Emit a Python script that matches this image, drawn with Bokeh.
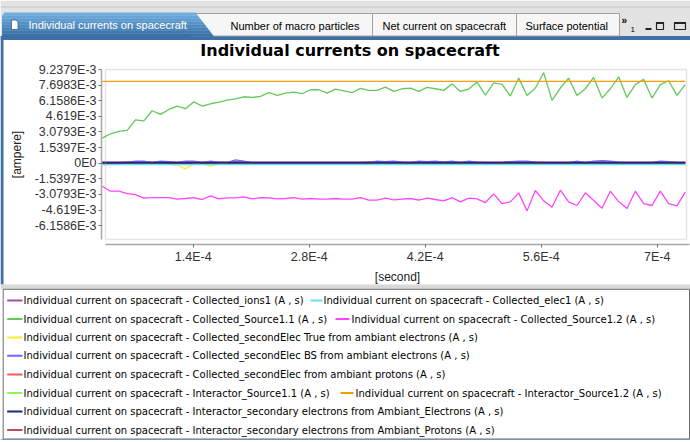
from bokeh.plotting import figure
from bokeh.models import Range1d, FixedTicker, BoxAnnotation, ColumnDataSource
from bokeh.core.properties import value
from bokeh.embed import file_html
from bokeh.resources import INLINE

# ---------------- data ----------------
TAB_TITLES = ["Individual currents on spacecraft", "Number of macro particles",
              "Net current on spacecraft", "Surface potential"]
CHART_TITLE = "Individual currents on spacecraft"
X_LABEL = "[second]"
Y_LABEL = "[ampere]"

N_SAMPLES = 71
T_FIRST = 3.017e-5
T_STEP = 1.00534e-5
TIME = [T_FIRST + k * T_STEP for k in range(N_SAMPLES)]

X_TICKS = [1.4e-4, 2.8e-4, 4.2e-4, 5.6e-4, 7.0e-4]
X_TICK_LABELS = ["1.4E-4", "2.8E-4", "4.2E-4", "5.6E-4", "7E-4"]
Y_TICKS = [-6.1586e-3, -4.619e-3, -3.0793e-3, -1.5397e-3, 0.0, 1.5397e-3,
           3.0793e-3, 4.619e-3, 6.1586e-3, 7.6983e-3, 9.2379e-3]
Y_TICK_LABELS = ["-6.1586E-3", "-4.619E-3", "-3.0793E-3", "-1.5397E-3", "0E0", "1.5397E-3",
                 "3.0793E-3", "4.619E-3", "6.1586E-3", "7.6983E-3", "9.2379E-3"]

SERIES_NAMES = [
    "Individual current on spacecraft - Collected_ions1 (A , s)",
    "Individual current on spacecraft - Collected_elec1 (A , s)",
    "Individual current on spacecraft - Collected_Source1.1 (A , s)",
    "Individual current on spacecraft - Collected_Source1.2 (A , s)",
    "Individual current on spacecraft - Collected_secondElec True from ambiant electrons (A , s)",
    "Individual current on spacecraft - Collected_secondElec BS from ambiant electrons (A , s)",
    "Individual current on spacecraft - Collected_secondElec from ambiant protons (A , s)",
    "Individual current on spacecraft - Interactor_Source1.1 (A , s)",
    "Individual current on spacecraft - Interactor_Source1.2 (A , s)",
    "Individual current on spacecraft - Interactor_secondary electrons from Ambiant_Electrons (A , s)",
    "Individual current on spacecraft - Interactor_secondary electrons from Ambiant_Protons (A , s)",
]
SERIES_COLORS = ["#a34fa3", "#66e0f0", "#63c957", "#ff44ff", "#f2ee3a", "#6a6aff",
                 "#ff5a5a", "#88ff55", "#f0a000", "#25257f", "#b05060"]

# values in milliampere
IONS1_MA = [0.10, 0.11, 0.10, 0.12, 0.14, 0.12, 0.10, 0.13, 0.12, 0.10,
            0.12, 0.13, 0.10, 0.12, 0.11, 0.10, 0.16, 0.12, 0.10, 0.11,
            0.10, 0.11, 0.10, 0.10, 0.11, 0.10, 0.10, 0.11, 0.10, 0.10,
            0.11, 0.10, 0.12, 0.13, 0.12, 0.13, 0.11, 0.10, 0.12, 0.11,
            0.13, 0.11, 0.12, 0.10, 0.12, 0.11, 0.10, 0.10, 0.11, 0.12,
            0.13, 0.12, 0.11, 0.10, 0.10, 0.10, 0.11, 0.12, 0.10, 0.13,
            0.14, 0.12, 0.11, 0.10, 0.10, 0.10, 0.11, 0.13, 0.12, 0.10,
            0.10]
ELEC1_MA = [-0.15, -0.14, -0.13, -0.14, -0.15, -0.13, -0.14, -0.15, -0.14, -0.13,
            -0.14, -0.15, -0.14, -0.13, -0.14, -0.14, -0.15, -0.14, -0.13, -0.14,
            -0.14, -0.15, -0.14, -0.14, -0.13, -0.14, -0.14, -0.15, -0.14, -0.14,
            -0.13, -0.14, -0.14, -0.15, -0.14, -0.13, -0.14, -0.15, -0.14, -0.14,
            -0.13, -0.14, -0.15, -0.14, -0.13, -0.14, -0.14, -0.15, -0.14, -0.13,
            -0.14, -0.15, -0.14, -0.13, -0.14, -0.14, -0.15, -0.14, -0.13, -0.14,
            -0.15, -0.14, -0.13, -0.14, -0.15, -0.14, -0.14, -0.13, -0.14, -0.15,
            -0.14]
SOURCE11_MA = [2.47, 2.90, 3.13, 3.23, 4.28, 4.18, 5.17, 4.81, 5.30, 5.63,
               5.37, 6.06, 5.63, 5.86, 6.02, 6.22, 6.35, 6.55, 6.48, 6.58,
               6.95, 6.68, 6.91, 7.01, 6.85, 7.24, 7.24, 6.91, 7.31, 7.14,
               6.95, 7.37, 7.18, 7.18, 7.50, 7.08, 7.34, 7.41, 7.08, 7.47,
               7.34, 7.18, 7.80, 7.08, 7.31, 8.00, 6.71, 7.93, 7.77, 6.62,
               8.39, 6.68, 7.41, 8.92, 6.19, 7.41, 8.39, 6.68, 7.34, 8.46,
               6.42, 7.34, 8.52, 6.48, 7.74, 8.26, 6.42, 7.74, 8.13, 6.68,
               7.74]
SOURCE12_MA = [-2.27, -2.76, -2.76, -2.99, -3.09, -3.45, -3.39, -3.39, -3.39, -3.55,
               -3.48, -3.39, -3.58, -3.22, -3.52, -3.42, -3.42, -3.32, -3.52, -3.39,
               -3.42, -3.52, -3.48, -3.39, -3.55, -3.48, -3.55, -3.55, -3.48, -3.55,
               -3.55, -3.39, -3.65, -3.65, -3.45, -3.62, -3.55, -3.48, -3.65, -3.45,
               -3.58, -3.71, -3.39, -3.81, -3.45, -3.52, -3.88, -3.02, -3.98, -3.81,
               -2.92, -4.70, -2.69, -3.71, -4.34, -2.66, -3.81, -4.17, -2.92, -3.68,
               -4.44, -2.76, -3.78, -4.47, -2.76, -3.98, -4.17, -2.76, -3.98, -4.21,
               -2.86]
SEC_TRUE_MA = [-0.15, -0.15, -0.12, -0.08, -0.08, -0.08, -0.08, -0.08, -0.12, -0.20,
               -0.56, -0.02, -0.10, -0.30, -0.08, -0.08, -0.09, -0.08, -0.08, -0.08,
               -0.08, -0.09, -0.08, -0.08, -0.08, -0.08, -0.09, -0.08, -0.08, -0.08,
               -0.08, -0.08, -0.09, -0.08, -0.08, -0.08, -0.08, -0.09, -0.08, -0.08,
               -0.08, -0.08, -0.09, -0.08, -0.08, -0.08, -0.08, -0.09, -0.08, -0.08,
               -0.08, -0.08, -0.09, -0.08, -0.08, -0.08, -0.08, -0.09, -0.08, -0.08,
               -0.08, -0.08, -0.09, -0.08, -0.08, -0.08, -0.08, -0.09, -0.08, -0.08,
               -0.08]
SEC_BS_MA = [0.05, 0.05, 0.05, 0.05, 0.20, 0.20, 0.05, 0.20, 0.15, 0.05,
             0.20, 0.20, 0.05, 0.20, 0.10, 0.05, 0.33, 0.20, 0.05, 0.05,
             0.05, 0.05, 0.05, 0.05, 0.05, 0.05, 0.05, 0.05, 0.05, 0.05,
             0.05, 0.05, 0.05, 0.20, 0.15, 0.20, 0.10, 0.05, 0.20, 0.15,
             0.20, 0.10, 0.20, 0.05, 0.20, 0.10, 0.05, 0.05, 0.05, 0.15,
             0.20, 0.20, 0.10, 0.05, 0.05, 0.05, 0.05, 0.20, 0.05, 0.20,
             0.25, 0.20, 0.10, 0.05, 0.05, 0.05, 0.05, 0.20, 0.15, 0.05,
             0.05]
SEC_PROTONS_MA = [0.02, 0.02, 0.03, 0.02, 0.02, 0.02, 0.03, 0.02, 0.02, 0.02,
                  0.02, 0.02, 0.03, 0.02, 0.02, 0.02, 0.02, 0.03, 0.02, 0.02,
                  0.02, 0.02, 0.02, 0.03, 0.02, 0.02, 0.02, 0.02, 0.02, 0.03,
                  0.02, 0.02, 0.02, 0.02, 0.03, 0.02, 0.02, 0.02, 0.02, 0.02,
                  0.03, 0.02, 0.02, 0.02, 0.02, 0.02, 0.03, 0.02, 0.02, 0.02,
                  0.02, 0.02, 0.03, 0.02, 0.02, 0.02, 0.02, 0.02, 0.03, 0.02,
                  0.02, 0.02, 0.02, 0.02, 0.03, 0.02, 0.02, 0.02, 0.02, 0.02,
                  0.02]
INTER_SRC11_MA = [0.01, 0.00, 0.01, 0.00, 0.00, 0.01, 0.00, 0.00, 0.01, 0.00,
                  0.00, 0.00, 0.01, 0.00, 0.00, 0.00, 0.01, 0.00, 0.00, 0.00,
                  0.01, 0.00, 0.00, 0.00, 0.00, 0.01, 0.00, 0.00, 0.00, 0.00,
                  0.01, 0.00, 0.00, 0.00, 0.00, 0.01, 0.00, 0.00, 0.00, 0.00,
                  0.01, 0.00, 0.00, 0.00, 0.00, 0.01, 0.00, 0.00, 0.00, 0.00,
                  0.01, 0.00, 0.00, 0.00, 0.00, 0.01, 0.00, 0.00, 0.00, 0.00,
                  0.01, 0.00, 0.00, 0.00, 0.00, 0.01, 0.00, 0.00, 0.00, 0.00,
                  0.01]
INTER_SRC12_MA = [8.06, 8.06, 8.06, 8.06, 8.06, 8.06, 8.06, 8.06, 8.06, 8.06,
                  8.06, 8.06, 8.06, 8.06, 8.06, 8.06, 8.06, 8.06, 8.06, 8.06,
                  8.06, 8.06, 8.06, 8.06, 8.06, 8.06, 8.06, 8.06, 8.06, 8.06,
                  8.06, 8.06, 8.06, 8.06, 8.06, 8.06, 8.06, 8.06, 8.06, 8.06,
                  8.06, 8.06, 8.06, 8.06, 8.06, 8.06, 8.06, 8.06, 8.06, 8.06,
                  8.06, 8.06, 8.06, 8.06, 8.06, 8.06, 8.06, 8.06, 8.06, 8.06,
                  8.06, 8.06, 8.06, 8.06, 8.06, 8.06, 8.06, 8.06, 8.06, 8.06,
                  8.06]
INTER_SEC_ELEC_MA = [0.04, 0.04, 0.04, 0.04, 0.04, 0.04, 0.04, 0.04, 0.04, 0.04,
                     0.04, 0.04, 0.04, 0.04, 0.04, 0.04, 0.04, 0.04, 0.04, 0.04,
                     0.04, 0.04, 0.04, 0.04, 0.04, 0.04, 0.04, 0.04, 0.04, 0.04,
                     0.04, 0.04, 0.04, 0.04, 0.04, 0.04, 0.04, 0.04, 0.04, 0.04,
                     0.04, 0.04, 0.04, 0.04, 0.04, 0.04, 0.04, 0.04, 0.04, 0.04,
                     0.04, 0.04, 0.04, 0.04, 0.04, 0.04, 0.04, 0.04, 0.04, 0.04,
                     0.04, 0.04, 0.04, 0.04, 0.04, 0.04, 0.04, 0.04, 0.04, 0.04,
                     0.04]
INTER_SEC_PROT_MA = [0.03, 0.03, 0.03, 0.03, 0.03, 0.03, 0.03, 0.03, 0.03, 0.03,
                     0.03, 0.03, 0.03, 0.03, 0.03, 0.03, 0.03, 0.03, 0.03, 0.03,
                     0.03, 0.03, 0.03, 0.03, 0.03, 0.03, 0.03, 0.03, 0.03, 0.03,
                     0.03, 0.03, 0.03, 0.03, 0.03, 0.03, 0.03, 0.03, 0.03, 0.03,
                     0.03, 0.03, 0.03, 0.03, 0.03, 0.03, 0.03, 0.03, 0.03, 0.03,
                     0.03, 0.03, 0.03, 0.03, 0.03, 0.03, 0.03, 0.03, 0.03, 0.03,
                     0.03, 0.03, 0.03, 0.03, 0.03, 0.03, 0.03, 0.03, 0.03, 0.03,
                     0.03]

SERIES_MA = [IONS1_MA, ELEC1_MA, SOURCE11_MA, SOURCE12_MA, SEC_TRUE_MA, SEC_BS_MA,
             SEC_PROTONS_MA, INTER_SRC11_MA, INTER_SRC12_MA, INTER_SEC_ELEC_MA, INTER_SEC_PROT_MA]

# legend flow layout: rows of series indices
LEGEND_ROWS = [[0, 1], [2, 3], [4], [5], [6], [7, 8], [9], [10]]

# ---------------- layout helpers (page pixel geometry -> data space) ----------------
W, H = 690, 440
X_PX_PER_S = 116.0 / 1.4e-4
Y_PX_PER_A = 93.7 / 9.2379e-3


def X(px):
    return 1.4e-4 + (px - 192.7) / X_PX_PER_S


def Y(py):
    return (162.7 - py) / Y_PX_PER_A


AXIS_FONT = "Liberation Sans"

p = figure(width=W, height=H, output_backend="svg", toolbar_location=None,
           x_range=Range1d(X(0), X(W)), y_range=Range1d(Y(H), Y(0)),
           min_border=0, background_fill_color="white", border_fill_color="white",
           outline_line_color=None)
p.grid.visible = False


def rect(l, r, t, b, fill, line=None, lw=1.0):
    p.quad(left=[X(l)], right=[X(r)], top=[Y(t)], bottom=[Y(b)],
           fill_color=fill, line_color=line, line_width=lw)


def poly(xs, ys, fill, line=None, lw=1.0):
    p.patch(x=[X(v) for v in xs], y=[Y(v) for v in ys], fill_color=fill, line_color=line, line_width=lw)


def hseg(x0, x1, y, color, lw=1.0):
    p.segment(x0=[X(x0)], y0=[Y(y)], x1=[X(x1)], y1=[Y(y)], line_color=color, line_width=lw)


def txt(x, y, s, size, color="black", font="Liberation Sans", style="normal", align="left"):
    p.text(x=[X(x)], y=[Y(y)], text=[s], text_font=value(font), text_font_size=size,
           text_font_style=style, text_color=color, text_align=align, text_baseline="middle")


# ---------------- window chrome & tab strip ----------------
rect(0, W, 0, 36, "#e2e2e2")
hseg(0, W, 6.5, "#c6c6c6")
rect(0, W, 35.5, 39.5, "#3d71a6")
rect(0, 3, 35.5, 284, "#3d71a6")
for l, r in ((190, 372), (372, 516), (516, 619)):
    rect(l, r, 13, 35.5, "#f6f6f6", "#a0a0a0", 1)


def slant(y):
    return 195 + (y - 12) * 18.5 / 24


c_top = (0x70, 0xae, 0xdf)
c_bot = (0x39, 0x71, 0xa8)
nb = 8
for i in range(nb):
    y0 = 12 + i * 3
    y1 = min(y0 + 3.3, 36)
    f = i / (nb - 1)
    col = "#%02x%02x%02x" % tuple(int(a + (b - a) * f) for a, b in zip(c_top, c_bot))
    left = 1.5 if y0 >= 15 else 1.5 + (15 - y0) * 0.8
    poly([left, slant(y0), slant(y1), 1.5], [y0, y0, y1, y1], col)
# document icon
poly([11, 15.5, 17.5, 17.5, 11], [19.5, 19.5, 21.5, 29, 29], "white", "#3c5f80", 0.8)
txt(28, 24.5, TAB_TITLES[0], "11px", color="white")
for x, t in zip((230, 382, 525), TAB_TITLES[1:]):
    txt(x, 25, t, "11px")
txt(621, 19.5, "\u00bb", "10px", style="bold")
txt(630, 29, "1", "8px")
rect(645, 651, 27.5, 29.5, "#222222")
rect(656, 663, 22, 29, None, "#222222", 1.2)
hseg(656, 663, 22.5, "#222222", 2)
rect(674, 685, 22, 29, None, "#222222", 1.2)
hseg(674, 685, 22.5, "#222222", 2)

# ---------------- chart title ----------------
txt(349.5, 49.5, CHART_TITLE, "16px", font="DejaVu Sans", style="bold", align="center")

# ---------------- legend panel ----------------
rect(0, W, 284, 289, "#d8d8d8")
rect(2.7, W - 1, 288.8, 438.5, "white", "#6e6e6e", 1)
rect(0, W, 439, H, "#3d71a6")
ROW_Y = [300, 318.5, 337, 355.3, 374, 392.5, 411, 429.5]
SECOND_X = {1: (310, 322, 323), 3: (335, 349, 351), 8: (340, 353, 355)}
for r, row in enumerate(LEGEND_ROWS):
    for j, idx in enumerate(row):
        a, b, c = (6.7, 22, 23) if j == 0 else SECOND_X[idx]
        hseg(a, b, ROW_Y[r], SERIES_COLORS[idx], 2)
        txt(c, ROW_Y[r], SERIES_NAMES[idx], "10px", font="DejaVu Sans")

# ---------------- series ----------------
src = ColumnDataSource({"t": TIME, **{f"s{i}": [v * 1e-3 for v in vals] for i, vals in enumerate(SERIES_MA)}})
DRAW_ORDER = [6, 7, 10, 4, 0, 5, 1, 9, 2, 3, 8]
for i in DRAW_ORDER:
    p.line(x="t", y=f"s{i}", source=src, line_color=SERIES_COLORS[i],
           line_width=2.0 if i == 9 else 1.3)

p.add_layout(BoxAnnotation(left=X(105), right=X(686), bottom=Y(239), top=Y(69),
                           fill_color=None, line_color="#a8a8a8", line_width=1.5))

# ---------------- axes (fixed at the chart box edges) ----------------
p.xaxis.fixed_location = Y(244)
p.yaxis.fixed_location = X(101)
for ax, ticks, labels, bounds in ((p.xaxis[0], X_TICKS, X_TICK_LABELS, (X(105), X(689))),
                                  (p.yaxis[0], Y_TICKS, Y_TICK_LABELS, (Y(239), Y(68.5)))):
    ax.ticker = FixedTicker(ticks=ticks)
    ax.major_label_overrides = {v: s for v, s in zip(ticks, labels)}
    ax.bounds = bounds
    ax.axis_line_color = "#a8a8a8"
    ax.axis_line_width = 1.5
    ax.major_tick_line_color = "#707070"
    ax.major_tick_in = 0
    ax.major_tick_out = 3
    ax.minor_tick_line_color = None
    ax.major_label_text_font = AXIS_FONT
    ax.major_label_text_font_size = "12.5px"
    ax.major_label_text_color = "#333333"
    ax.major_label_standoff = 2
    ax.axis_label_text_font = AXIS_FONT
    ax.axis_label_text_font_size = "12px"
    ax.axis_label_text_font_style = "normal"
    ax.axis_label_text_color = "#222222"

p.xaxis.axis_label = X_LABEL
p.xaxis.axis_label_standoff = 3
p.yaxis.axis_label = Y_LABEL
p.yaxis.axis_label_standoff = 8

open("out.html", "w").write(file_html(p, INLINE))
